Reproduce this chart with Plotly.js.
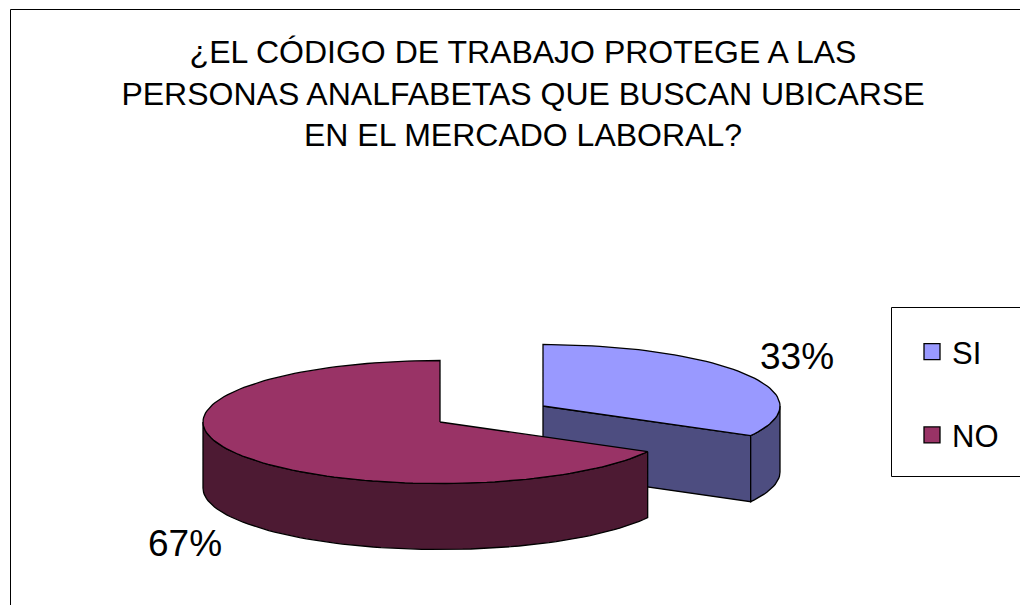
<!DOCTYPE html>
<html>
<head>
<meta charset="utf-8">
<script src="https://cdn.plot.ly/plotly-3.0.1.min.js"></script>
<style>html,body{margin:0;padding:0;background:#fff;}#chart{width:1020px;height:605px;}</style>
</head>
<body>
<div id="chart"></div>
<script>
// ---- data ----
const categories = ['SI', 'NO'];
const values = [33, 67];
const percentLabels = ['33%', '67%'];
const topColors = ['#9999FF', '#993366'];
const sideColors = ['#4D4D80', '#4D1A33'];
const chartTitle = '¿EL CÓDIGO DE TRABAJO PROTEGE A LAS<br>PERSONAS ANALFABETAS QUE BUSCAN UBICARSE<br>EN EL MERCADO LABORAL?';

// ---- geometry (pixel-like units on hidden axes) ----
const RX = 237, RY = 61.5, DEPTH = 66;
const sliceCenters = [[543, 406], [440, 422]];   // exploded slice positions
const labelPos = [[797, 356], [185, 543]];
const FONT = '"Liberation Sans", Arial, sans-serif';

function pt(c, deg, dy) {
  const t = deg * Math.PI / 180;
  return [c[0] + RX * Math.sin(t), c[1] - RY * Math.cos(t) + (dy || 0)];
}
function arc(c, a0, a1, dy) {
  const n = Math.max(2, Math.ceil(Math.abs(a1 - a0) / 2));
  const out = [];
  for (let k = 0; k <= n; k++) out.push(pt(c, a0 + (a1 - a0) * k / n, dy));
  return out;
}
function poly(points, color, name) {
  return {
    type: 'scatter', mode: 'lines', fill: 'toself', fillcolor: color,
    x: points.map(p => p[0]), y: points.map(p => p[1]),
    line: {color: '#000', width: 1.3}, showlegend: false, hoverinfo: 'skip', name: name
  };
}

const total = values.reduce((a, b) => a + b, 0);
const traces = [];
let start = 0;
values.forEach((v, i) => {
  const a0 = start, a1 = start + v / total * 360;
  start = a1;
  const c = sliceCenters[i];
  // cut faces visible toward viewer
  [[a1, a1 + 90], [a0, a0 - 90]].forEach(([a, normal]) => {
    if (Math.cos(normal * Math.PI / 180) < -1e-6) {
      const p = pt(c, a), pb = pt(c, a, DEPTH);
      traces.push(poly([c, p, pb, [c[0], c[1] + DEPTH], c], sideColors[i], categories[i]));
    }
  });
  // outer wall (front half 90..270, and 450..630 for wrap)
  [[90, 270], [450, 630]].forEach(([f0, f1]) => {
    const b0 = Math.max(a0, f0), b1 = Math.min(a1, f1);
    if (b1 > b0) {
      const pts = arc(c, b0, b1).concat(arc(c, b1, b0, DEPTH));
      pts.push(pts[0]);
      traces.push(poly(pts, sideColors[i], categories[i]));
    }
  });
  // top face
  const topPts = [c].concat(arc(c, a0, a1)).concat([c]);
  traces.push(poly(topPts, topColors[i], categories[i]));
});

// legend entries
categories.forEach((cat, i) => {
  traces.push({
    type: 'scatter', mode: 'markers', x: [null], y: [null], name: cat,
    legendgroup: cat, showlegend: true,
    marker: {symbol: 'square', size: 21, color: topColors[i], line: {color: '#000', width: 1.3}}
  });
});

const annotations = percentLabels.map((t, i) => ({
  x: labelPos[i][0], y: labelPos[i][1], xref: 'x', yref: 'y', text: t, showarrow: false,
  font: {family: FONT, size: 37, color: '#000'}, xanchor: 'center', yanchor: 'middle'
}));

const layout = {
  width: 1020, height: 605,
  margin: {l: 0, r: 0, t: 0, b: 0},
  paper_bgcolor: '#fff', plot_bgcolor: '#fff',
  title: {text: chartTitle, font: {family: FONT, size: 32, color: '#000'},
          x: 523 / 1020, xanchor: 'center', y: 0.8957, yanchor: 'top'},
  xaxis: {range: [0, 1020], visible: false, fixedrange: true},
  yaxis: {range: [605, 0], visible: false, fixedrange: true},
  showlegend: true,
  legend: {x: 912 / 1020, xanchor: 'left', y: 1 - 325 / 605, yanchor: 'top',
           font: {family: FONT, size: 31, color: '#000'}, bgcolor: 'rgba(0,0,0,0)',
           borderwidth: 0, traceorder: 'grouped', tracegroupgap: 40, itemclick: false},
  shapes: [
    {type: 'rect', xref: 'x', yref: 'y', x0: 10.5, y0: 9.5, x1: 1040, y1: 640, line: {color: '#000', width: 1}},
    {type: 'rect', xref: 'x', yref: 'y', x0: 891.5, y0: 307.5, x1: 1040, y1: 476.5, line: {color: '#000', width: 1}}
  ],
  annotations: annotations
};

Plotly.newPlot('chart', traces, layout, {displayModeBar: false, staticPlot: true});
</script>
</body>
</html>
